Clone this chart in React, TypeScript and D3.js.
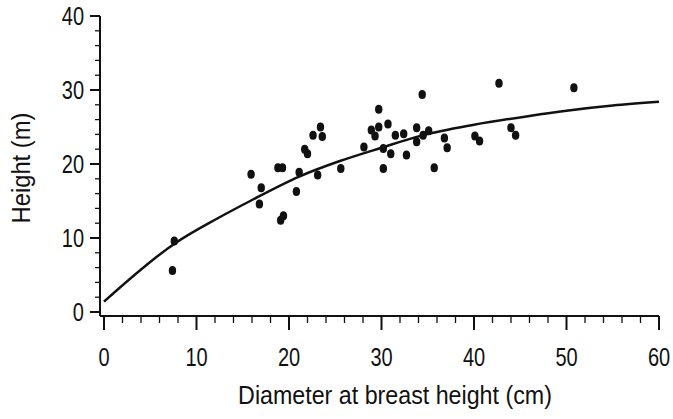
import React from "react";
import * as d3 from "d3";

const dbh: number[] = [7.6, 7.4, 15.9, 17.0, 16.8, 18.8, 19.3, 19.4, 19.1, 20.8, 21.1, 21.7, 22.0, 22.6, 23.4, 23.6, 23.1, 25.6, 28.1, 29.7, 28.9, 29.3, 29.7, 30.7, 30.2, 31.0, 30.2, 31.5, 32.4, 32.7, 33.8, 33.8, 34.4, 34.5, 35.1, 35.7, 36.8, 37.1, 40.1, 40.6, 42.7, 44.0, 44.5, 50.8];
const height: number[] = [9.6, 5.6, 18.6, 16.8, 14.6, 19.5, 19.5, 13.0, 12.4, 16.3, 18.9, 22.0, 21.4, 23.9, 25.0, 23.7, 18.5, 19.4, 22.3, 27.4, 24.6, 23.8, 25.0, 25.4, 22.1, 21.4, 19.4, 23.9, 24.1, 21.2, 24.9, 23.0, 29.4, 23.9, 24.5, 19.5, 23.5, 22.2, 23.8, 23.1, 30.9, 24.9, 23.9, 30.3];

const fitX: number[] = [0, 7.7, 12.2, 15.8, 21.1, 25.5, 30, 34.2, 40, 46, 50, 55, 60];
const fitY: number[] = [1.4, 9.3, 12.6, 15.0, 18.3, 20.4, 22.2, 23.8, 25.3, 26.5, 27.2, 27.9, 28.4];

const xTicks: number[] = [0, 10, 20, 30, 40, 50, 60];
const yTicks: number[] = [0, 10, 20, 30, 40];
const xLabel = "Diameter at breast height (cm)";
const yLabel = "Height (m)";

const FONT = "'Liberation Sans', Arial, sans-serif";

function Txt(props: { x: number; y: number; sx: number; size: number; anchor: string; rotate?: number; children: React.ReactNode }) {
  const { x, y, sx, size, anchor, rotate, children } = props;
  return (
    <text
      transform={`translate(${x},${y})${rotate ? ` rotate(${rotate})` : ""} scale(${sx},1)`}
      textAnchor={anchor}
      fontFamily={FONT}
      fontSize={size}
      fill="#111"
    >
      {children}
    </text>
  );
}

export default function App() {
  const W = 673, H = 419;
  const x = d3.scaleLinear().domain([0, 60]).range([104, 659]);
  const y = d3.scaleLinear().domain([0, 40]).range([312, 16]);
  const axisX = 100;
  const axisY = 316;

  const line = d3
    .line<number>()
    .x((_, i) => x(fitX[i]))
    .y((_, i) => y(fitY[i]))
    .curve(d3.curveMonotoneX);

  const xMinor = d3.range(0, 61, 2);
  const yMinor = d3.range(0, 41, 2);

  return (
    <svg width={W} height={H} style={{ position: "absolute", left: 0, top: 0, background: "#fff" }}>
      <rect width={W} height={H} fill="#fff" />
      {/* Y axis */}
      <line x1={axisX} x2={axisX} y1={y(40)} y2={axisY} stroke="#111" strokeWidth={2} />
      {yMinor.map((t) => (
        <line key={"ym" + t} x1={t % 10 === 0 ? axisX - 10 : axisX - 5} x2={axisX} y1={y(t)} y2={y(t)} stroke="#111" strokeWidth={t % 10 === 0 ? 2 : 1.3} />
      ))}
      {yTicks.map((t) => (
        <Txt key={"yl" + t} x={84} y={y(t) + 9} sx={0.8} size={25} anchor="end">
          {t}
        </Txt>
      ))}
      {/* X axis */}
      <line x1={axisX} x2={x(60)} y1={axisY} y2={axisY} stroke="#111" strokeWidth={2} />
      {xMinor.map((t) => (
        <line key={"xm" + t} x1={x(t)} x2={x(t)} y1={axisY} y2={t % 10 === 0 ? axisY + 14 : axisY + 7} stroke="#111" strokeWidth={t % 10 === 0 ? 2 : 1.3} />
      ))}
      {xTicks.map((t) => (
        <Txt key={"xl" + t} x={x(t)} y={366} sx={0.8} size={25} anchor="middle">
          {t}
        </Txt>
      ))}
      {/* Titles */}
      <Txt x={395} y={404} sx={0.93} size={25} anchor="middle">
        {xLabel}
      </Txt>
      <Txt x={30} y={168} sx={0.95} size={25} anchor="middle" rotate={-90}>
        {yLabel}
      </Txt>
      {/* Fitted curve */}
      <path d={line(fitX) || ""} fill="none" stroke="#111" strokeWidth={2.5} />
      {/* Points */}
      {dbh.map((d, i) => (
        <ellipse key={"p" + i} cx={x(d)} cy={y(height[i])} rx={3.7} ry={4.5} fill="#111" />
      ))}
    </svg>
  );
}
